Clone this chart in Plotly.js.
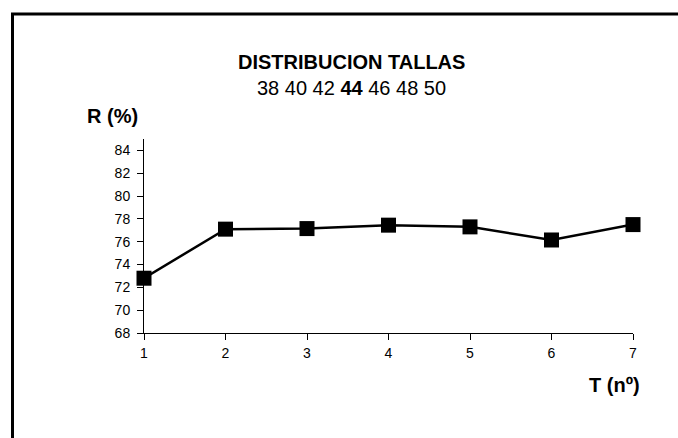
<!DOCTYPE html>
<html>
<head>
<meta charset="utf-8">
<script src="https://cdn.plot.ly/plotly-3.0.1.min.js"></script>
<style>
  html, body { margin: 0; padding: 0; background: #fff; }
  #chart { width: 678px; height: 438px; }
</style>
</head>
<body>
<div id="chart"></div>
<script>
// Talla number (T) and yield R (%) per size
const tallas = [1, 2, 3, 4, 5, 6, 7];
const rendimiento = [72.8, 77.1, 77.15, 77.45, 77.3, 76.15, 77.5];
const yTicks = [68, 70, 72, 74, 76, 78, 80, 82, 84];

const W = 678, H = 438;
const M = { l: 144, r: 45, t: 139, b: 105 };
const pw = W - M.l - M.r, ph = H - M.t - M.b;
// convert page pixels to paper coordinates for the frame and labels
const px = v => (v - M.l) / pw;
const py = v => (H - M.b - v) / ph;

const font = 'Liberation Sans, Arial, sans-serif';

const trace = {
  x: tallas,
  y: rendimiento,
  type: 'scatter',
  mode: 'lines+markers',
  line: { color: '#000', width: 2.5 },
  marker: { symbol: 'square', size: 15, color: '#000' },
  cliponaxis: false,
  hoverinfo: 'skip'
};

const axisCommon = {
  ticks: 'outside', ticklen: 6, tickcolor: '#000', tickwidth: 1,
  showline: true, linecolor: '#000', linewidth: 1,
  showgrid: false, zeroline: false,
  tickfont: { family: font, size: 14, color: '#000' }
};

const layout = {
  width: W, height: H,
  margin: M,
  paper_bgcolor: '#fff',
  plot_bgcolor: '#fff',
  showlegend: false,
  font: { family: font, color: '#000', size: 14 },
  xaxis: Object.assign({ range: [1, 7], tickvals: tallas, ticklabelstandoff: 1 }, axisCommon),
  yaxis: Object.assign({ range: [68, 85], tickvals: yTicks, ticklabelstandoff: 4 }, axisCommon),
  annotations: [
    { text: '<b>DISTRIBUCION TALLAS</b>', xref: 'paper', yref: 'paper',
      x: px(351), y: py(62), xanchor: 'center', yanchor: 'middle',
      showarrow: false, font: { family: font, size: 20, color: '#000' } },
    { text: '38 40 42 <b>44</b> 46 48 50', xref: 'paper', yref: 'paper',
      x: px(351), y: py(88), xanchor: 'center', yanchor: 'middle',
      showarrow: false, font: { family: font, size: 20, color: '#000' } },
    { text: '<b>R (%)</b>', xref: 'paper', yref: 'paper',
      x: px(112), y: py(116), xanchor: 'center', yanchor: 'middle',
      showarrow: false, font: { family: font, size: 20, color: '#000' } },
    { text: '<b>T (nº)</b>', xref: 'paper', yref: 'paper',
      x: px(614), y: py(385), xanchor: 'center', yanchor: 'middle',
      showarrow: false, font: { family: font, size: 20, color: '#000' } }
  ],
  shapes: [
    { type: 'rect', xref: 'paper', yref: 'paper',
      x0: px(12.5), y0: py(460), x1: px(700), y1: py(14),
      line: { color: '#000', width: 3 }, fillcolor: 'rgba(0,0,0,0)', layer: 'below' }
  ]
};

Plotly.newPlot('chart', [trace], layout, { displayModeBar: false, staticPlot: true });
</script>
</body>
</html>
